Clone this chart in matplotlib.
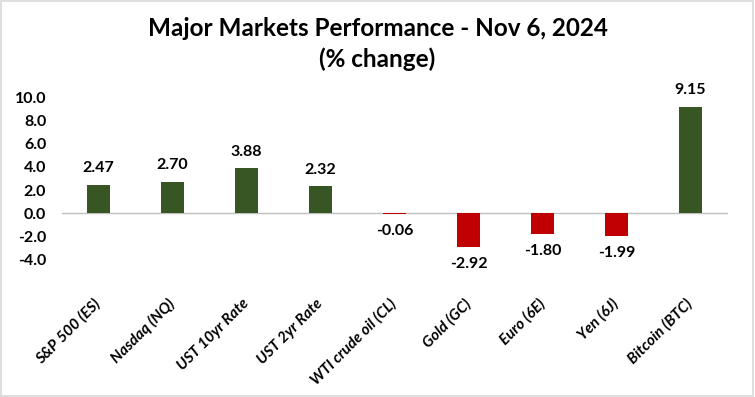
import matplotlib.pyplot as plt
from matplotlib.patches import Rectangle

# Data
markets = ['S&P 500 (ES)', 'Nasdaq (NQ)', 'UST 10yr Rate', 'UST 2yr Rate',
           'WTI crude oil (CL)', 'Gold (GC)', 'Euro (6E)', 'Yen (6J)', 'Bitcoin (BTC)']
changes = [2.47, 2.70, 3.88, 2.32, -0.06, -2.92, -1.80, -1.99, 9.15]
yticks = [-4, -2, 0, 2, 4, 6, 8, 10]

plt.rcParams['font.family'] = ['Lato', 'DejaVu Sans']

fig = plt.figure(figsize=(7.55, 3.97), dpi=100)
ax = fig.add_axes([61.5 / 755, 1 - 259.7 / 397, 666 / 755, (259.7 - 97.3) / 397])

colors = ['#375623' if v >= 0 else '#C00000' for v in changes]
x = range(len(markets))
ax.bar(x, changes, width=0.31, color=colors, zorder=2)

# value labels
for i, v in enumerate(changes):
    if v >= 0:
        ax.annotate(f'{v:.2f}', (i, v), xytext=(0, 7), textcoords='offset points',
                    ha='center', va='bottom', fontsize=11.5, fontweight='bold')
    else:
        ax.annotate(f'{v:.2f}', (i, v), xytext=(0, -7), textcoords='offset points',
                    ha='center', va='top', fontsize=11.5, fontweight='bold')

ax.axhline(0, color='#BFBFBF', linewidth=1, zorder=1)
ax.set_xlim(-0.5, len(markets) - 0.5)
ax.set_ylim(-4, 10)
ax.set_yticks(yticks)
ax.set_yticklabels([f'{t:.1f}' for t in yticks], fontsize=11.5, fontweight='bold')
ax.set_xticks(list(x))
ax.set_xticklabels(markets, rotation=45, ha='right', va='center', rotation_mode='anchor',
                   fontsize=11, fontweight='bold', fontstyle='italic')
ax.tick_params(axis='both', length=0)
ax.tick_params(axis='y', pad=11)
ax.tick_params(axis='x', pad=30)
for s in ax.spines.values():
    s.set_visible(False)

fig.text(0.5, 1 - 28 / 397, 'Major Markets Performance - Nov 6, 2024',
         ha='center', va='center', fontsize=17.5, fontweight='bold')
fig.text(0.5, 1 - 59 / 397, '(% change)',
         ha='center', va='center', fontsize=17.5, fontweight='bold')

# figure border
fig.patches.append(Rectangle((0.001, 0.002), 0.997, 0.995, transform=fig.transFigure,
                             fill=False, edgecolor='#D9D9D9', linewidth=1.2))

fig.savefig('out.png', dpi=100)
